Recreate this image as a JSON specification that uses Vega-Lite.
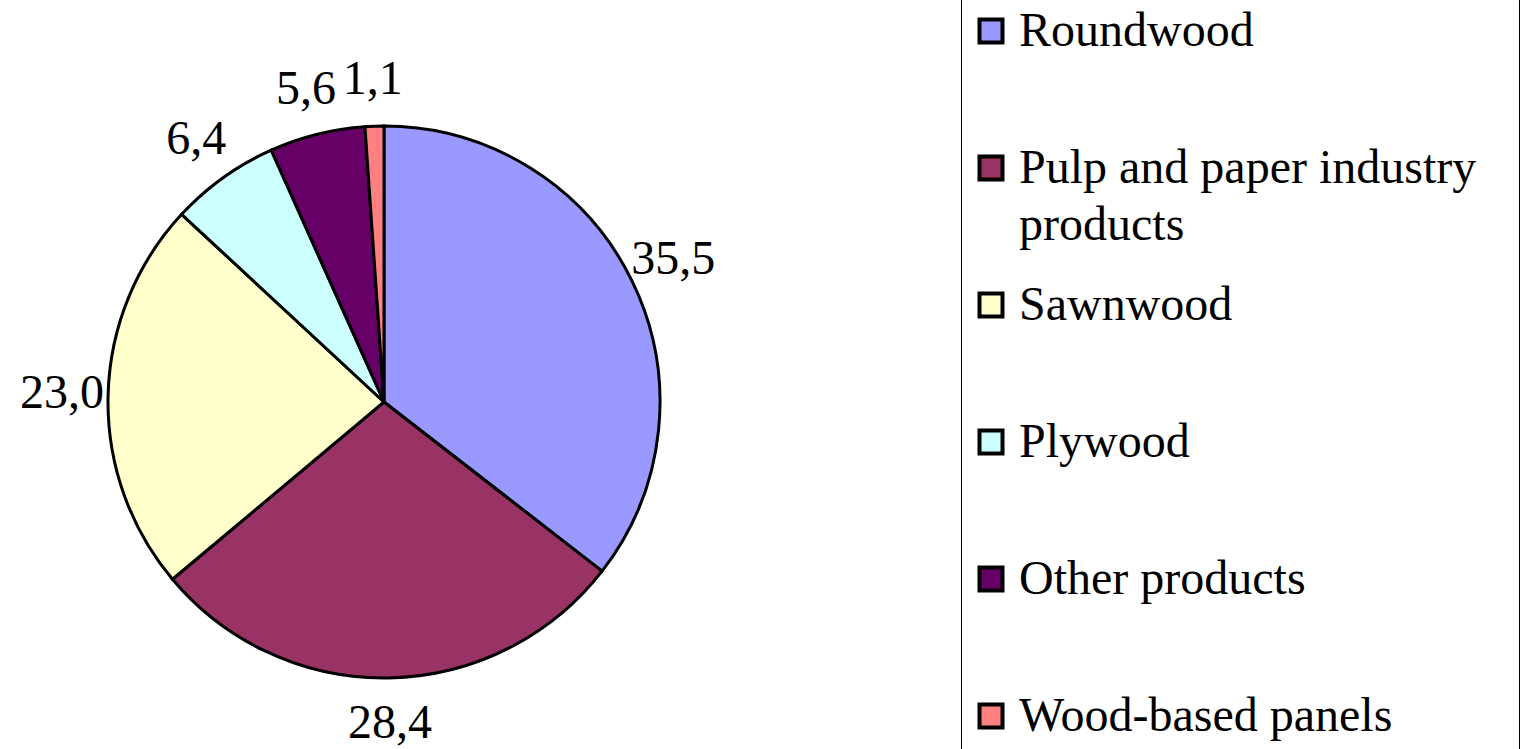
{
  "$schema": "https://vega.github.io/schema/vega-lite/v6.json",
  "padding": {"left": 0, "top": -10, "right": 0, "bottom": 0},
  "spacing": 192,
  "config": {
    "view": {"stroke": null},
    "font": "Liberation Serif",
    "locale": {"number": {"decimal": ",", "thousands": " ", "grouping": [3], "currency": ["", ""]}}
  },
  "datasets": {
    "shares": [
      {"category": "Roundwood", "share": 35.5, "order": 1},
      {"category": "Pulp and paper industry\nproducts", "share": 28.4, "order": 2},
      {"category": "Sawnwood", "share": 23.0, "order": 3},
      {"category": "Plywood", "share": 6.4, "order": 4},
      {"category": "Other products", "share": 5.6, "order": 5},
      {"category": "Wood-based panels", "share": 1.1, "order": 6}
    ]
  },
  "resolve": {"scale": {"color": "shared"}},
  "hconcat": [
    {
      "width": 768,
      "height": 822,
      "data": {"name": "shares"},
      "encoding": {
        "theta": {"field": "share", "type": "quantitative", "stack": true},
        "order": {"field": "order", "type": "quantitative"}
      },
      "layer": [
        {
          "mark": {"type": "arc", "outerRadius": 276, "stroke": "#000", "strokeWidth": 3},
          "encoding": {
            "color": {
              "field": "category",
              "type": "nominal",
              "scale": {
                "domain": ["Roundwood", "Pulp and paper industry\nproducts", "Sawnwood", "Plywood", "Other products", "Wood-based panels"],
                "range": ["#9999FF", "#993366", "#FFFFCC", "#CCFFFF", "#660066", "#FF8080"]
              },
              "legend": null
            }
          }
        },
        {
          "mark": {"type": "text", "radius": 322, "fontSize": 48, "font": "Liberation Serif", "align": "center", "baseline": "middle", "color": "#000"},
          "encoding": {
            "detail": {"field": "category", "type": "nominal"},
            "text": {"field": "share", "type": "quantitative", "format": ".1f"}
          }
        }
      ]
    },
    {
      "width": 558,
      "height": 765,
      "view": {"stroke": "#000", "strokeWidth": 1},
      "data": {"name": "shares"},
      "encoding": {
        "y": {
          "field": "category",
          "type": "nominal",
          "scale": {
            "type": "point",
            "domain": ["Roundwood", "Pulp and paper industry\nproducts", "Sawnwood", "Plywood", "Other products", "Wood-based panels"],
            "padding": 0.292
          },
          "axis": null
        }
      },
      "layer": [
        {
          "mark": {"type": "point", "shape": "square", "size": 529, "filled": true, "opacity": 1, "stroke": "#000", "strokeWidth": 4, "x": 30},
          "encoding": {
            "color": {
              "field": "category",
              "type": "nominal",
              "scale": {
                "domain": ["Roundwood", "Pulp and paper industry\nproducts", "Sawnwood", "Plywood", "Other products", "Wood-based panels"],
                "range": ["#9999FF", "#993366", "#FFFFCC", "#CCFFFF", "#660066", "#FF8080"]
              },
              "legend": null
            }
          }
        },
        {
          "mark": {"type": "text", "x": 58, "align": "left", "baseline": "alphabetic", "dy": 15, "fontSize": 48, "font": "Liberation Serif", "lineBreak": "\n", "lineHeight": 57, "color": "#000"},
          "encoding": {
            "text": {"field": "category", "type": "nominal"}
          }
        }
      ]
    }
  ]
}
